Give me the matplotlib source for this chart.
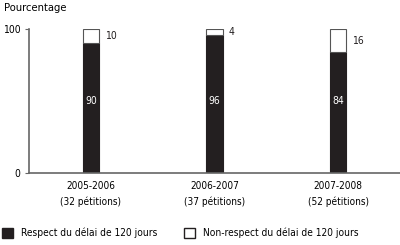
import matplotlib
matplotlib.use("Agg")
import matplotlib.pyplot as plt
from matplotlib.patches import Patch

# data
periods = ["2005-2006\n(32 pétitions)", "2006-2007\n(37 pétitions)", "2007-2008\n(52 pétitions)"]
respect = [90, 96, 84]
non_respect = [10, 4, 16]
series_names = ["Respect du délai de 120 jours", "Non-respect du délai de 120 jours"]

plt.rcParams['font.family'] = ['DejaVu Sans']
plt.rcParams['font.stretch'] = 'condensed'
plt.rcParams['font.size'] = 7

fig = plt.figure(figsize=(4.0, 2.45), dpi=100)
ax = fig.add_axes([29 / 400, 1 - 173 / 245, 371 / 400, 144 / 245])

x = list(range(len(periods)))
w = 0.13
ax.bar(x, respect, width=w, color="#231f20", edgecolor="#231f20", linewidth=0.8)
ax.bar(x, non_respect, width=w, bottom=respect, color="white", edgecolor="#555555", linewidth=0.8)

for i in x:
    ax.text(i, 50, str(respect[i]), color="white", ha="center", va="center", fontsize=7.5)
    ax.text(i + w / 2 + 0.05, respect[i] + non_respect[i] / 2, str(non_respect[i]),
            color="#231f20", ha="left", va="center", fontsize=7.5)

ax.set_xlim(-0.5, 2.5)
ax.set_ylim(0, 100)
ax.set_yticks([0, 100])
ax.set_yticklabels(["0", "100"], fontsize=7.5)
ax.set_xticks(x)
ax.set_xticklabels(periods, linespacing=1.6, fontsize=7.2)
ax.tick_params(axis="x", length=0, pad=6)
ax.tick_params(axis="y", length=3, color="#666666", pad=3)
for s in ["top", "right"]:
    ax.spines[s].set_visible(False)
for s in ["left", "bottom"]:
    ax.spines[s].set_color("#666666")
    ax.spines[s].set_linewidth(1.2)

fig.text(4 / 400, 1 - 8 / 245, "Pourcentage", ha="left", va="center", fontsize=8)

handles = [Patch(facecolor="#231f20", edgecolor="#231f20"),
           Patch(facecolor="white", edgecolor="#231f20")]
fig.legend(handles, series_names, loc="center left", bbox_to_anchor=(0.0, 1 - 233 / 245),
           ncol=2, frameon=False, handlelength=1.1, handleheight=1.1, columnspacing=2.6,
           handletextpad=0.8, borderaxespad=0, borderpad=0.2, fontsize=7.3)

fig.savefig("out.png", dpi=100)
